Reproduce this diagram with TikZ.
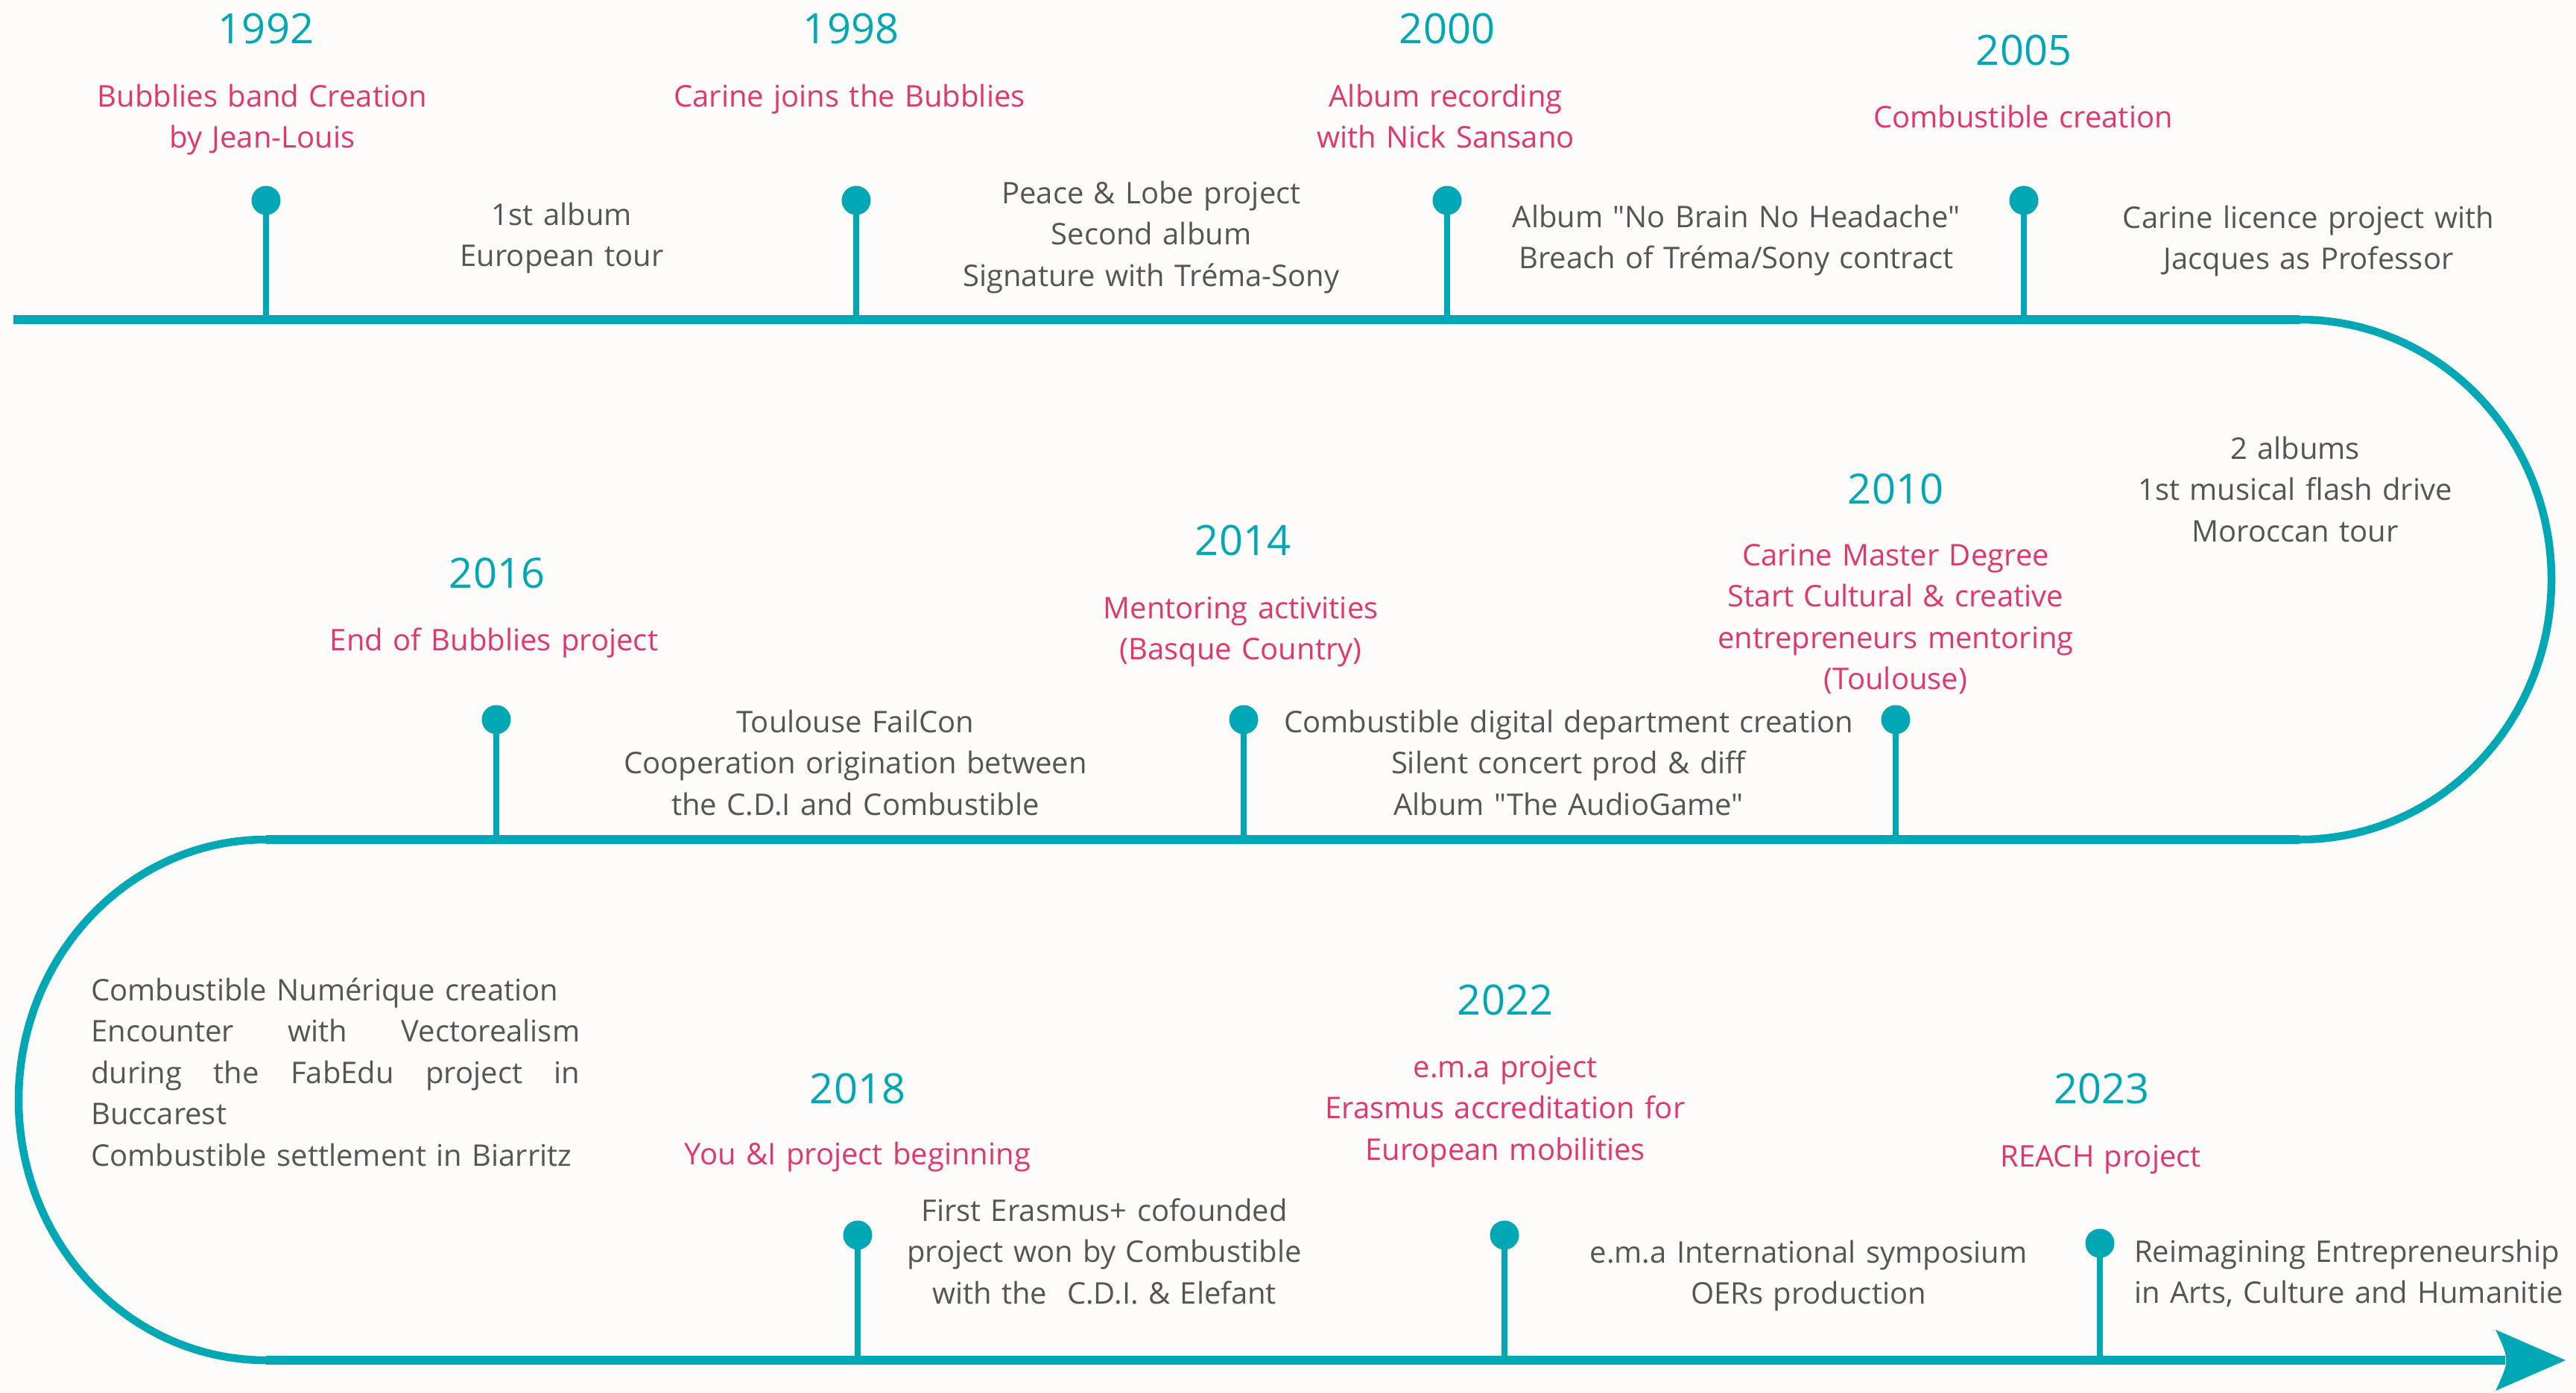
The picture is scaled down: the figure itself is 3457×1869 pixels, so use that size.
\documentclass[tikz,border=0pt]{standalone}
\usepackage{fontspec}
\setmainfont{Open Sans}[Ligatures=TeXOff]
\definecolor{tlteal}{RGB}{0,167,181}
\definecolor{tlpink}{RGB}{224,56,106}
\definecolor{tlgray}{RGB}{85,85,85}
\definecolor{tlbg}{RGB}{253,252,251}
\begin{document}
\begin{tikzpicture}[x=1pt,y=-1pt,
  yeartxt/.style={font=\fontsize{56}{60}\selectfont, text=tlteal, anchor=base, inner sep=0pt},
  evtxt/.style={font=\fontsize{40}{55.5}\selectfont, text=tlpink, anchor=base, inner sep=0pt, align=center, text width=900pt},
  desctxt/.style={font=\fontsize{40}{55.5}\selectfont, text=tlgray, anchor=base, inner sep=0pt, align=center, text width=900pt},
  tldot/.style={circle, fill=tlteal, inner sep=0pt, minimum size=39pt},
  tlstem/.style={draw=tlteal, line width=8.5pt},
  tlline/.style={draw=tlteal, line width=12.5pt},
  tlcurve/.style={draw=tlteal, line width=10.5pt}
]
\useasboundingbox (0,0) rectangle (3457,1869);
\fill[tlbg] (0,0) rectangle (3457,1869);

% main path
\coordinate (L0) at (18,429);
\coordinate (R0) at (3086,429);
\coordinate (R1) at (3086,1127);
\coordinate (L1) at (357,1127);
\coordinate (L2) at (357,1826);
\coordinate (E) at (3362,1826);
\coordinate (ahA) at (3349,1785);
\coordinate (ahT) at (3443,1826);
\coordinate (ahB) at (3349,1867);

\draw[tlline] (L0) -- (R0);
\draw[tlcurve] (R0) .. controls (3272.7,429) and (3424,585.2) .. (3424,778) .. controls (3424,970.8) and (3272.7,1127) .. (R1);
\draw[tlline] (R1) -- (L1);
\draw[tlcurve] (L1) .. controls (173.6,1127) and (25,1283.5) .. (25,1476.5) .. controls (25,1669.5) and (173.6,1826) .. (L2);
\draw[tlline] (L2) -- (E);
\fill[tlteal] (ahA) -- (ahT) -- (ahB) .. controls (3368,1826) .. (ahA);

% top row
\foreach \n/\x in {1992/357,1998/1149,2000/1942,2005/2716}{
  \node[tldot] (d\n) at (\x,269) {};
  \coordinate (b\n) at (\x,429);
  \draw[tlstem] (d\n.center) -- (b\n);
}
% middle row
\foreach \n/\x in {2016/666,2014/1669,2010/2544}{
  \node[tldot] (d\n) at (\x,966) {};
  \coordinate (b\n) at (\x,1127);
  \draw[tlstem] (d\n.center) -- (b\n);
}
% bottom row
\foreach \n/\x/\y in {2018/1151/1658,2022/2019/1658,2023/2818/1669}{
  \node[tldot] (d\n) at (\x,\y) {};
  \coordinate (b\n) at (\x,1826);
  \draw[tlstem] (d\n.center) -- (b\n);
}

% texts top
\node[yeartxt] (y1992) at (357,58) {1992};
\node[evtxt] (p1992) at (352,143) {Bubblies band Creation\\by Jean-Louis};
\node[desctxt] (g1992) at (754,302) {1st album\\European tour};
\node[yeartxt] (y1998) at (1142,58) {1998};
\node[evtxt] (p1998) at (1140,143) {Carine joins the Bubblies};
\node[desctxt] (g1998) at (1545,273) {Peace \& Lobe project\\Second album\\Signature with Tréma-Sony};
\node[yeartxt] (y2000) at (1942,58) {2000};
\node[evtxt] (p2000) at (1940,143) {Album recording\\with Nick Sansano};
\node[desctxt] (g2000) at (2330,305) {Album "No Brain No Headache"\\Breach of Tréma/Sony contract};
\node[yeartxt] (y2005) at (2716,87) {2005};
\node[evtxt] (p2005) at (2715,171) {Combustible creation};
\node[desctxt] (g2005) at (3098,306) {Carine licence project with\\Jacques as Professor};

% texts middle
\node[desctxt] (g2010r) at (3080,616) {2 albums\\1st musical flash drive\\Moroccan tour};
\node[yeartxt] (y2010) at (2544,676) {2010};
\node[evtxt] (p2010) at (2544,759) {Carine Master Degree\\Start Cultural \& creative\\entrepreneurs mentoring\\(Toulouse)};
\node[yeartxt] (y2014) at (1668,745) {2014};
\node[evtxt] (p2014) at (1665,830) {Mentoring activities\\(Basque Country)};
\node[desctxt] (g2014) at (2105,983) {Combustible digital department creation\\Silent concert prod \& diff\\Album "The AudioGame"};
\node[yeartxt] (y2016) at (667,789) {2016};
\node[evtxt] (p2016) at (663,873) {End of Bubblies project};
\node[desctxt] (g2016) at (1148,983) {Toulouse FailCon\\Cooperation origination between\\the C.D.I and Combustible};

% texts bottom
\node[desctxt, anchor=base west, text width=656pt, align=left] (gleft) at (122,1343)
  {Combustible Numérique creation\\
   \leavevmode\hbox to 656pt{Encounter\hfill with\hfill Vectorealism}\\
   \leavevmode\hbox to 656pt{during\hfill the\hfill FabEdu\hfill project\hfill in}\\
   Buccarest\\
   Combustible settlement in Biarritz};
\node[yeartxt] (y2018) at (1151,1481) {2018};
\node[evtxt] (p2018) at (1151,1563) {You \&I project beginning};
\node[desctxt] (g2018) at (1482,1639) {First Erasmus+ cofounded\\project won by Combustible\\with the\ \ C.D.I. \& Elefant};
\node[yeartxt] (y2022) at (2020,1362) {2022};
\node[evtxt] (p2022) at (2020,1446) {e.m.a project\\Erasmus accreditation for\\European mobilities};
\node[desctxt] (g2022) at (2427,1695) {e.m.a International symposium\\OERs production};
\node[yeartxt] (y2023) at (2820,1481) {2023};
\node[evtxt] (p2023) at (2819,1566) {REACH project};
\node[desctxt, anchor=base west, text width=600pt, align=left] (g2023) at (2864,1694) {Reimagining Entrepreneurship\\in Arts, Culture and Humanitie};
\end{tikzpicture}
\end{document}
